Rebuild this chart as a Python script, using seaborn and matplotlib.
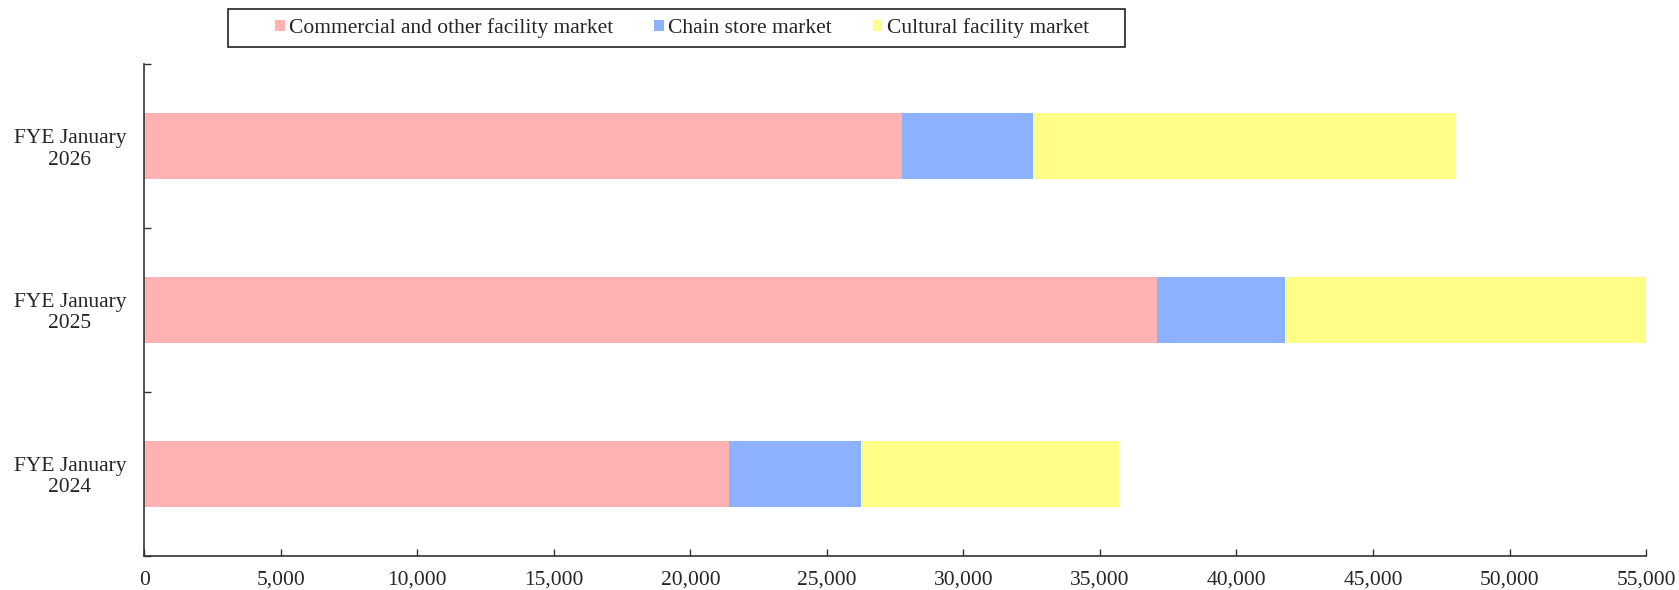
import seaborn as sns
import pandas as pd
import matplotlib.pyplot as plt
import numpy as np
from matplotlib.patches import Rectangle

# values (x axis is in units of the chart, no title)
years = ['FYE January\n2026', 'FYE January\n2025', 'FYE January\n2024']
commercial = [27760, 37090, 21430]
chain_store = [4780, 4700, 4830]
cultural = [15500, 17210, 9450]

series_names = ['Commercial and other facility market', 'Chain store market', 'Cultural facility market']
colors = ['#FFB2B2', '#8CB2FF', '#FFFF88']
x_ticks = list(range(0, 55001, 5000))

df = pd.DataFrame({'year': years, 'commercial': commercial,
                   'chain': chain_store, 'cultural': cultural})
df['c1'] = df['commercial']
df['c2'] = df['c1'] + df['chain']
df['c3'] = df['c2'] + df['cultural']

sns.set_style('white')
plt.rcParams['font.family'] = ['Liberation Serif', 'DejaVu Serif']
fs = 15.5

fig = plt.figure(figsize=(16.79, 5.90), dpi=100)
ax = fig.add_axes([0.0859, 0.0581, 0.8945, 0.8334])

# stack by drawing cumulative totals back to front
for col, color in zip(['c3', 'c2', 'c1'], colors[::-1]):
    sns.barplot(data=df, x=col, y='year', orient='h', color=color,
                width=0.4, ax=ax, saturation=1, linewidth=0)

ax.set_xlim(0, 55000)
ax.set_ylim(2.5, -0.5)
ax.set_xticks(x_ticks)
ax.set_xticklabels([f'{v:,}' for v in x_ticks])
ax.set_xlabel('')
ax.set_ylabel('')

for s in ['top', 'right']:
    ax.spines[s].set_visible(False)
for s in ['left', 'bottom']:
    ax.spines[s].set_color('#333333')
    ax.spines[s].set_linewidth(1.2)

ax.tick_params(axis='x', direction='in', length=5, width=1, color='#333333',
               labelsize=fs, pad=11, bottom=True)
ax.tick_params(axis='y', which='major', length=0, labelsize=fs, pad=13)
ax.set_yticks([-0.5, 0.5, 1.5, 2.5], minor=True)
ax.tick_params(axis='y', which='minor', direction='in', length=5, width=1,
               color='#333333', left=True)
for lbl in ax.get_yticklabels():
    lbl.set_multialignment('center')
    lbl.set_linespacing(1.15)

handles = [Rectangle((0, 0), 1, 1, facecolor=c, edgecolor='none') for c in colors]
fig.legend(handles, series_names, loc='center left', ncol=3,
           bbox_to_anchor=(0.1638, 0.9525), bbox_transform=fig.transFigure,
           frameon=False, fontsize=fs, borderpad=0, borderaxespad=0,
           handlelength=0.45, handleheight=0.45, handletextpad=0.2,
           columnspacing=1.9)
fig.patches.append(Rectangle((0.1358, 0.9203), 0.5342, 0.0644, transform=fig.transFigure,
                             fill=False, edgecolor='#222222', linewidth=1.2))

fig.savefig('out.png', dpi=100)
